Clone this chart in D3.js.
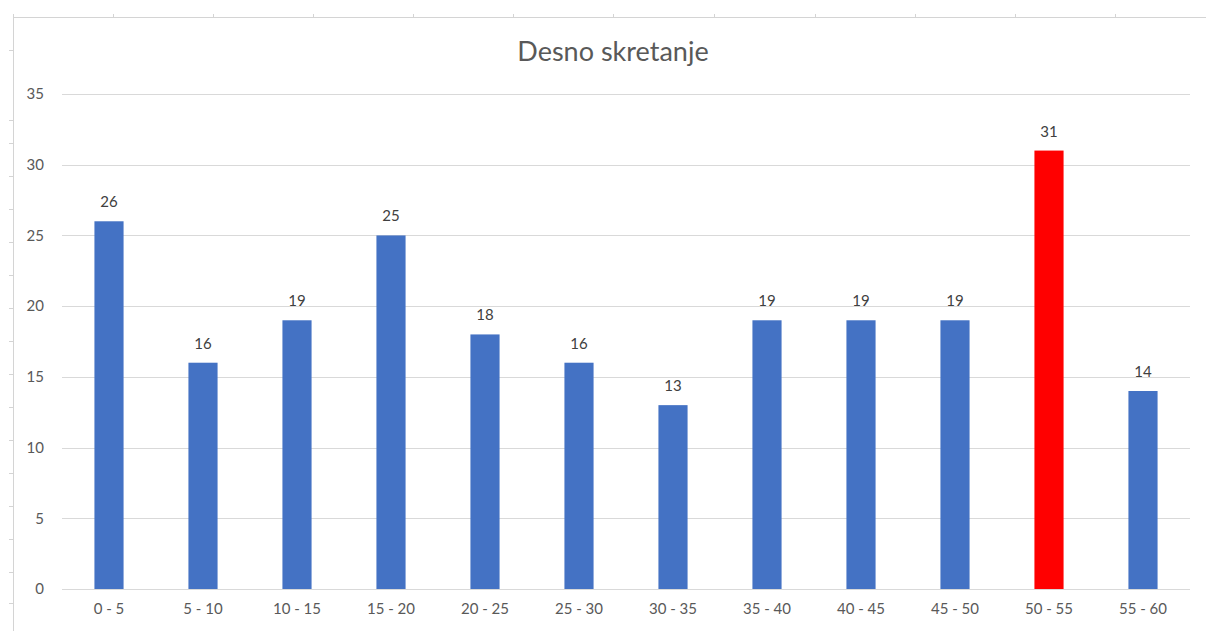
<!DOCTYPE html>
<html>
<head>
<meta charset="utf-8">
<script src="https://cdn.jsdelivr.net/npm/d3@7"></script>
<style>
  html, body { margin: 0; padding: 0; background: #ffffff; }
  svg { display: block; font-family: Lato, Calibri, "Noto Sans", sans-serif; }
</style>
</head>
<body>
<div id="chart"></div>
<script>
// podaci
const categories = ['0 - 5', '5 - 10', '10 - 15', '15 - 20', '20 - 25', '25 - 30',
                    '30 - 35', '35 - 40', '40 - 45', '45 - 50', '50 - 55', '55 - 60'];
const values = [26, 16, 19, 25, 18, 16, 13, 19, 19, 19, 31, 14];
const highlight = ['50 - 55'];
const yTicks = [0, 5, 10, 15, 20, 25, 30, 35];
const title = 'Desno skretanje';

// okvir celija iz Excela (samo ukras)
const sheetCols = [13, 113, 213, 313, 413, 513, 613, 714, 815, 915, 1015, 1115];
const sheetRows = [50, 120, 143, 176, 209, 242, 275, 308, 341, 374, 407, 440, 473, 506, 539, 572, 603];

document.addEventListener('DOMContentLoaded', () => {
    drawChart();
});

const drawChart = () => {
    const width = 1206;
    const height = 631;
    const plot = { left: 62, right: 1190, top: 94, bottom: 589 };

    const svg = d3.select('#chart')
                  .append('svg')
                  .attr('width', width)
                  .attr('height', height);

    // ukras: rubovi celija
    const sheet = svg.append('g').attr('stroke', '#d4d4d4').attr('stroke-width', 1);
    sheet.append('line')
         .attr('x1', 13).attr('x2', width)
         .attr('y1', 17.5).attr('y2', 17.5);
    sheet.append('line')
         .attr('x1', 13.5).attr('x2', 13.5)
         .attr('y1', 14).attr('y2', height);
    sheet.selectAll('.col')
         .data(sheetCols)
         .enter()
         .append('line')
         .attr('x1', d => d + 0.5).attr('x2', d => d + 0.5)
         .attr('y1', 14).attr('y2', 17);
    sheet.selectAll('.row')
         .data(sheetRows)
         .enter()
         .append('line')
         .attr('x1', 9).attr('x2', 13)
         .attr('y1', d => d + 0.5).attr('y2', d => d + 0.5);

    // skale
    const x = d3.scaleBand()
                .domain(categories)
                .range([plot.left, plot.right])
                .paddingInner(0.69)
                .paddingOuter(0.345);

    const y = d3.scaleLinear()
                .domain([0, 35])
                .range([plot.bottom, plot.top]);

    // mreza
    svg.append('g')
       .selectAll('line')
       .data(yTicks)
       .enter()
       .append('line')
       .attr('x1', plot.left)
       .attr('x2', plot.right)
       .attr('y1', d => Math.round(y(d)) + 0.5)
       .attr('y2', d => Math.round(y(d)) + 0.5)
       .attr('stroke', '#d9d9d9')
       .attr('stroke-width', 1);

    // y os
    const yAxis = svg.append('g')
                     .attr('transform', `translate(${plot.left}, 0)`)
                     .call(d3.axisLeft(y).tickValues(yTicks).tickSize(0).tickPadding(18));
    yAxis.select('.domain').remove();
    yAxis.selectAll('text')
         .attr('fill', '#595959')
         .style('font-size', '15px')
         .style('font-family', 'Lato, Calibri, sans-serif');

    // x os
    const xAxis = svg.append('g')
                     .attr('transform', `translate(0, ${plot.bottom})`)
                     .call(d3.axisBottom(x).tickSize(0).tickPadding(14));
    xAxis.select('.domain').remove();
    xAxis.selectAll('text')
         .attr('fill', '#595959')
         .style('font-size', '15px')
         .style('font-family', 'Lato, Calibri, sans-serif');

    const data = categories.map((c, i) => ({ category: c, value: values[i] }));

    // stupci
    svg.append('g')
       .selectAll('rect')
       .data(data)
       .enter()
       .append('rect')
       .attr('x', d => x(d.category))
       .attr('y', d => y(d.value))
       .attr('width', x.bandwidth())
       .attr('height', d => y(0) - y(d.value))
       .attr('fill', d => highlight.includes(d.category) ? '#ff0000' : '#4472c4');

    // oznake vrijednosti
    svg.append('g')
       .selectAll('text')
       .data(data)
       .enter()
       .append('text')
       .attr('x', d => x(d.category) + x.bandwidth() / 2)
       .attr('y', d => y(d.value) - 14)
       .attr('text-anchor', 'middle')
       .attr('fill', '#404040')
       .style('font-size', '15px')
       .text(d => d.value);

    // naslov
    svg.append('text')
       .attr('x', 613)
       .attr('y', 61)
       .attr('text-anchor', 'middle')
       .attr('fill', '#595959')
       .style('font-size', '27px')
       .text(title);
};
</script>
</body>
</html>
